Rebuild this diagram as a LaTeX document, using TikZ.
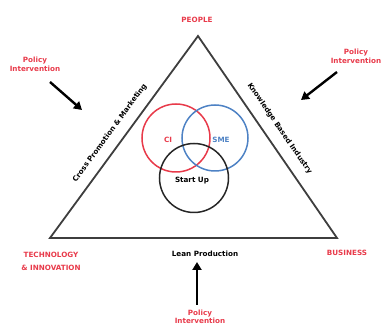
\documentclass[tikz,border=0pt]{standalone}
\usepackage{fontspec}
\setmainfont{DejaVu Sans}
\usetikzlibrary{calc,positioning,arrows.meta}
\definecolor{polred}{RGB}{232,58,74}
\definecolor{smeblue}{RGB}{78,130,196}
\definecolor{edgegray}{RGB}{62,62,62}
\tikzset{
redtext/.style={text=polred, font=\fontsize{7.2}{10}\selectfont\bfseries, align=center, inner sep=1pt}, % corner and policy labels
blacktext/.style={font=\fontsize{7.2}{10}\selectfont\bfseries, inner sep=1pt},
policy arrow/.style={-{Triangle[length=8pt,width=9pt]}, line width=2.4pt},
venn/.style={circle, line width=1.5pt, inner sep=0pt},
}

\begin{document}
\begin{tikzpicture}[x=1pt,y=-1pt]
   \useasboundingbox (0,0) rectangle (384,326);
   % corners of the triangle
   \coordinate (top) at (198,36);
   \coordinate (left) at (50,238);
   \coordinate (right) at (337,238);
   \draw[edgegray, line width=1.8pt, line join=miter] (top) -- (right) -- (left) -- cycle;

   % three overlapping circles
   \node[venn, draw=polred, minimum size=68pt] (ci) at (176,138) {};
   \node[venn, draw=smeblue, minimum size=66pt] (sme) at (215,138) {};
   \node[venn, draw=black!85, minimum size=69pt] (startup) at (194,178) {};
   \node[blacktext, text=polred] (ci label) at (168,140) {CI};
   \node[blacktext, text=smeblue] (sme label) at (221,140) {SME};
   \node[blacktext] (startup label) at (192,181) {Start Up};

   % side labels
   \node[blacktext, rotate=53.8, anchor=south, inner sep=10pt] (cross) at ($(left)!0.48!(top)$) {Cross Promotion \& Marketing};
   \node[blacktext, rotate=-55.5, anchor=south, inner sep=11pt] (knowledge) at ($(top)!0.5!(right)$) {Knowledge Based Industry};
   \node[blacktext] (lean) at (205,254) {Lean Production};

   % corner labels
   \node[redtext] (people) at (197,20) {PEOPLE};
   \node[redtext] (techno) at (51,261) {TECHNOLOGY\\[3pt]\& INNOVATION};
   \node[redtext] (business) at (347,253) {BUSINESS};

   % policy interventions
   \node[redtext] (pol left) at (35,64) {Policy\\[-1pt]Intervention};
   \node[redtext] (pol right) at (356,56) {Policy\\[-1pt]Intervention};
   \node[redtext] (pol bottom) at (200,317) {Policy\\[-2pt]Intervention};
   \coordinate (pol left tail) at (50,82);
   \coordinate (pol left tip) at (82,110);
   \coordinate (pol right tail) at (337,72);
   \coordinate (pol right tip) at (301,100);
   \coordinate (pol bottom tail) at (197,305);
   \coordinate (pol bottom tip) at (197,262);
   \draw[policy arrow] (pol left tail) -- (pol left tip);
   \draw[policy arrow] (pol right tail) -- (pol right tip);
   \draw[policy arrow] (pol bottom tail) -- (pol bottom tip);
\end{tikzpicture}
\end{document}
